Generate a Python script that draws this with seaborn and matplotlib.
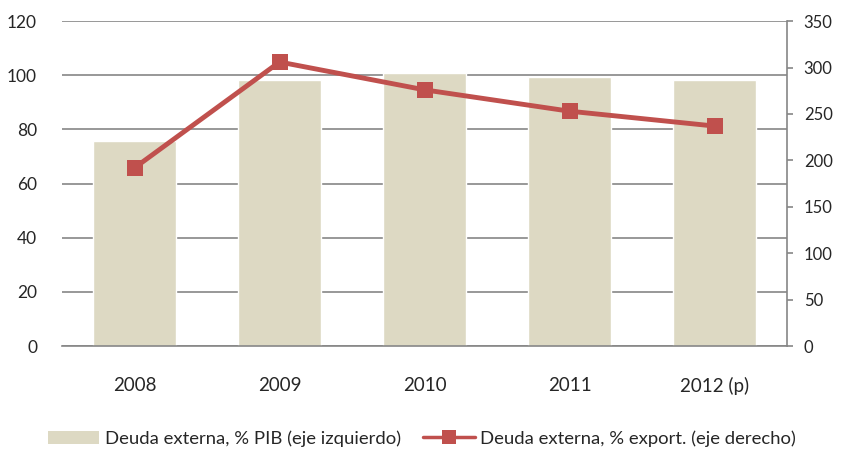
import pandas as pd
import matplotlib
matplotlib.use("Agg")
import matplotlib.pyplot as plt
import seaborn as sns
from matplotlib.lines import Line2D
from matplotlib.patches import Patch

years = ['2008', '2009', '2010', '2011', '2012 (p)']
deuda_pib = [75.6, 98.1, 100.8, 99.4, 98.1]
deuda_export = [192, 306, 276, 253, 237]

lbl_bar = 'Deuda externa, % PIB (eje izquierdo)'
lbl_line = 'Deuda externa, % export. (eje derecho)'

bar_color = '#DDD9C3'
line_color = '#C0504D'
grid_color = '#868686'


def main():
    sns.set_style('white')
    plt.rcParams['font.family'] = ['Lato', 'DejaVu Sans']

    df = pd.DataFrame({'anio': years, 'pib': deuda_pib, 'export': deuda_export})

    fig = plt.figure(figsize=(8.44, 4.5), dpi=100)
    ax = fig.add_axes([0.0735, 0.231, 0.859, 0.722])

    sns.barplot(x='anio', y='pib', data=df, color=bar_color, width=0.57,
                saturation=1, ax=ax, zorder=2)
    ax.set_ylim(0, 120)
    ax.set_yticks(range(0, 121, 20))
    ax.set_xlim(-0.5, 4.5)
    ax.set_xlabel('')
    ax.set_ylabel('')
    ax.yaxis.grid(True, color=grid_color, linewidth=1.2)
    ax.set_axisbelow(True)
    for s in ['left', 'top', 'right']:
        ax.spines[s].set_visible(False)
    ax.spines['bottom'].set_color(grid_color)
    ax.spines['bottom'].set_linewidth(1.2)
    ax.tick_params(axis='y', length=0, pad=18, labelsize=12.5)
    ax.tick_params(axis='x', length=0, pad=22, labelsize=13.5)

    ax2 = ax.twinx()
    sns.lineplot(x=range(len(years)), y=deuda_export, ax=ax2, color=line_color,
                 linewidth=3.5, marker='s', markersize=12, markeredgewidth=0,
                 zorder=5)
    ax2.set_ylim(0, 350)
    ax2.set_yticks(range(0, 351, 50))
    ax2.set_xlim(-0.5, 4.5)
    for s in ['left', 'top', 'bottom']:
        ax2.spines[s].set_visible(False)
    ax2.spines['right'].set_color(grid_color)
    ax2.spines['right'].set_linewidth(1.2)
    ax2.tick_params(axis='y', length=4, width=1.2, color=grid_color,
                    direction='out', pad=8, labelsize=12)
    ax2.grid(False)

    handles = [Patch(facecolor=bar_color, edgecolor='none'),
               Line2D([0], [0], color=line_color, linewidth=2.5, marker='s',
                      markersize=10, markeredgewidth=0)]
    fig.legend(handles, [lbl_bar, lbl_line], loc='lower center',
               bbox_to_anchor=(0.5, -0.03), ncol=2, frameon=False, fontsize=13.3,
               handlelength=2.8, columnspacing=1.2, handletextpad=0.3)

    fig.savefig('out.png', dpi=100)


if __name__ == "__main__":
    main()
